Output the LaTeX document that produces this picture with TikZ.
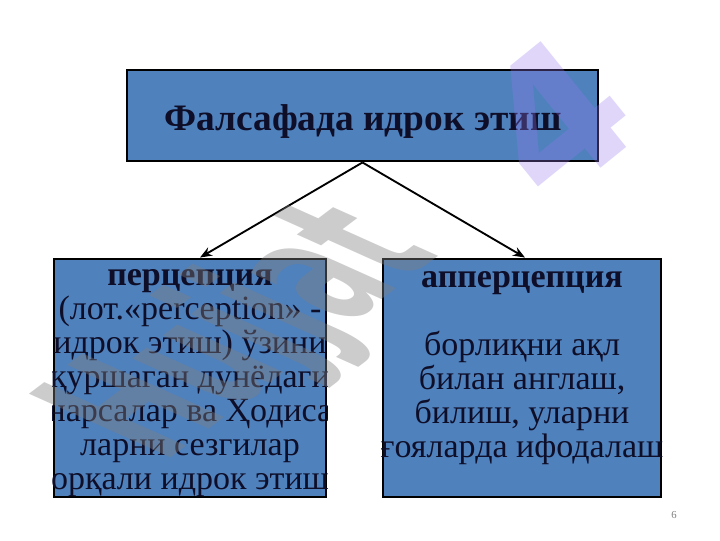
\documentclass[tikz,border=0pt]{standalone}
\usepackage{fontspec}
\setmainfont{Liberation Serif}
\newfontfamily\wmfont{DejaVu Sans}
\usetikzlibrary{arrows.meta}
\definecolor{boxblue}{RGB}{79,129,189}
\definecolor{txtdark}{RGB}{14,14,40}
\definecolor{wmgray}{RGB}{128,128,128}
\definecolor{wmpurple}{RGB}{150,120,240}
\tikzset{
  box/.style={draw=black, line width=2.2pt, fill=boxblue, inner sep=0pt},
  arr/.style={-{Stealth[length=9pt,width=7pt]}, line width=1.4pt},
  body/.style={text=txtdark, align=center, inner sep=0pt,
    font=\fontsize{25.5}{25.5}\selectfont},
  wm/.style={inner sep=0pt, font=\wmfont\bfseries\fontsize{140}{140}\selectfont}
}
\begin{document}
\begin{tikzpicture}[x=0.75pt,y=-0.75pt]
\useasboundingbox (0,0) rectangle (720,540);
\fill[white] (0,0) rectangle (720,540);
% boxes
\node[box, minimum width=471*0.75pt, minimum height=91*0.75pt] (T) at (362.5,115.5) {};
\node[box, minimum width=272*0.75pt, minimum height=238*0.75pt] (L) at (190,378) {};
\node[box, minimum width=278*0.75pt, minimum height=238*0.75pt] (R) at (522,378) {};
% texts
\node[text=txtdark, inner sep=0pt, anchor=base, font=\bfseries\fontsize{28}{28}\selectfont] (Tt) at (363,130) {Фалсафада идрок этиш};
\begin{scope}
\clip (L.south west) rectangle (L.north east);
\node[body, anchor=north] (Lt) at (190,269) {\textbf{перцепция}\\(лот.«perception» -\\идрок этиш) ўзини\\қуршаган дунёдаги\\нарсалар ва Ҳодиса\\ларни сезгилар\\орқали идрок этиш};
\end{scope}
\begin{scope}
\clip (R.south west) rectangle (R.north east);
\node[body, anchor=north] (Rt) at (522,271) {\textbf{апперцепция}\\[25.5pt]борлиқни ақл\\билан англаш,\\билиш, уларни\\ғояларда ифодалаш};
\end{scope}
% connectors
\draw[arr] (T.south) -- ([xshift=7.5pt]L.north);
\draw[arr] (T.south) -- ([xshift=2.25pt]R.north);
% page number
\node[text=wmgray, inner sep=0pt, font=\fontsize{8}{8}\selectfont] (pg) at (674,515) {6};
% watermark
\node[wm, text=wmgray, opacity=0.4, rotate=37, xslant=-0.55, xscale=0.55] (wm1) at (250,335) {Hujjat};
\node[wm, text=wmpurple, opacity=0.3, rotate=39] (wm2) at (555,118) {4};
\end{tikzpicture}
\end{document}
